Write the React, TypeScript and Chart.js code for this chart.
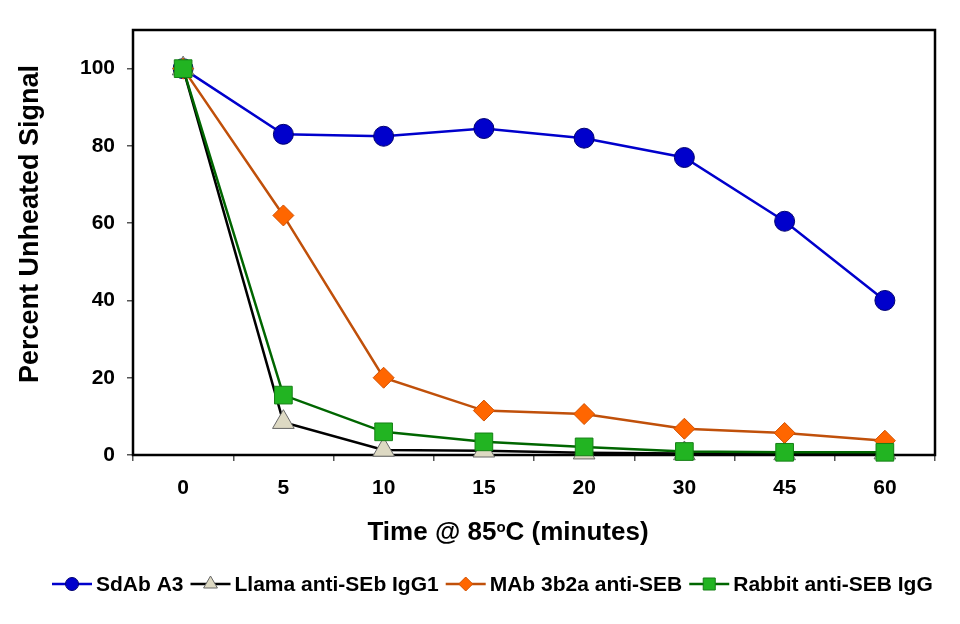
import React, { useEffect, useRef } from "react";
import { Chart, registerables } from "chart.js";
import { drawPoint } from "chart.js/helpers";

Chart.register(...registerables);

const FONT = '"Liberation Sans", Arial, Helvetica, sans-serif';

// ---- data ----
const timeCategories = ["0", "5", "10", "15", "20", "30", "45", "60"];
const sdAbA3 = [100, 83, 82.5, 84.5, 82, 77, 60.5, 40];
const llamaIgG1 = [100, 8.5, 1.3, 1.1, 0.6, 0.4, 0.4, 0.6];
const mab3b2a = [100, 62, 20, 11.5, 10.6, 6.8, 5.7, 3.7];
const rabbitIgG = [100, 15.5, 6, 3.4, 2.1, 0.9, 0.7, 0.7];
const seriesLabels = ["SdAb A3", "Llama anti-SEb IgG1", "MAb 3b2a anti-SEB", "Rabbit anti-SEB IgG"];
const yMin = 0;
const yMax = 110;
const yStep = 20;
const yTickLimit = 100;
const yTitle = "Percent Unheated Signal";
const xTitleParts = ["Time @ 85", "o", "C (minutes)"];

const framePlugin = {
  id: "frame",
  beforeDatasetsDraw(chart: any) {
    const { ctx, chartArea: a } = chart;
    ctx.save();
    ctx.strokeStyle = "#000";
    ctx.lineWidth = 2.5;
    ctx.strokeRect(a.left, a.top, a.right - a.left, a.bottom - a.top);
    ctx.restore();
  },
};

const titlesPlugin = {
  id: "titles",
  afterDraw(chart: any) {
    const ctx = chart.ctx;
    ctx.save();
    ctx.fillStyle = "#000";
    // y title
    ctx.font = `bold 27px ${FONT}`;
    ctx.translate(31, 224);
    ctx.rotate(-Math.PI / 2);
    ctx.textAlign = "center";
    ctx.textBaseline = "middle";
    ctx.fillText(yTitle, 0, 0);
    ctx.restore();

    // x title with superscript o
    ctx.save();
    ctx.fillStyle = "#000";
    ctx.textBaseline = "alphabetic";
    ctx.textAlign = "left";
    const big = `bold 26px ${FONT}`;
    const small = `bold 15px ${FONT}`;
    ctx.font = big;
    const w0 = ctx.measureText(xTitleParts[0]).width;
    const w2 = ctx.measureText(xTitleParts[2]).width;
    ctx.font = small;
    const w1 = ctx.measureText(xTitleParts[1]).width;
    const total = w0 + w1 + w2;
    let x = 508 - total / 2;
    const base = 540;
    ctx.font = big;
    ctx.fillText(xTitleParts[0], x, base);
    x += w0;
    ctx.font = small;
    ctx.fillText(xTitleParts[1], x, base - 8);
    x += w1;
    ctx.font = big;
    ctx.fillText(xTitleParts[2], x, base);
    ctx.restore();
  },
};

const legendPlugin = {
  id: "customLegend",
  afterDraw(chart: any) {
    const ctx = chart.ctx;
    ctx.save();
    ctx.font = `bold 21px ${FONT}`;
    ctx.textBaseline = "middle";
    ctx.textAlign = "left";
    const lineLen = 40;
    const gapText = 4;
    const gapItem = 7;
    const y = 584;
    let x = 52;
    chart.data.datasets.forEach((ds: any) => {
      ctx.strokeStyle = ds.borderColor;
      ctx.lineWidth = 2.5;
      ctx.beginPath();
      ctx.moveTo(x, y);
      ctx.lineTo(x + lineLen, y);
      ctx.stroke();
      ctx.fillStyle = ds.pointBackgroundColor;
      ctx.strokeStyle = ds.pointBorderColor;
      ctx.lineWidth = 1;
      drawPoint(ctx, { pointStyle: ds.pointStyle, radius: ds.legendRadius, borderWidth: 1, rotation: 0 } as any, x + lineLen / 2, y);
      ctx.fillStyle = "#000";
      const tx = x + lineLen + gapText;
      ctx.fillText(ds.label, tx, y + 1);
      x = tx + ctx.measureText(ds.label).width + gapItem;
    });
    ctx.restore();
  },
};

export default function App() {
  const canvasRef = useRef<HTMLCanvasElement | null>(null);

  useEffect(() => {
    document.body.style.margin = "0";
    const canvas = canvasRef.current;
    if (!canvas) return;
    const common = { borderWidth: 2.5, tension: 0, clip: false as any, pointBorderWidth: 1, fill: false };
    const chart = new Chart(canvas, {
      type: "line",
      data: {
        labels: timeCategories,
        datasets: [
          {
            ...common,
            label: seriesLabels[0],
            data: sdAbA3,
            borderColor: "#0000CC",
            backgroundColor: "#0000CC",
            pointBackgroundColor: "#0000CC",
            pointBorderColor: "#000070",
            pointStyle: "circle",
            pointRadius: 10,
            legendRadius: 6.5,
            order: 4,
          } as any,
          {
            ...common,
            label: seriesLabels[1],
            data: llamaIgG1,
            borderColor: "#000000",
            backgroundColor: "#DDD9C3",
            pointBackgroundColor: "#DDD9C3",
            pointBorderColor: "#666666",
            pointStyle: "triangle",
            pointRadius: 12.5,
            legendRadius: 8,
            order: 3,
          } as any,
          {
            ...common,
            label: seriesLabels[2],
            data: mab3b2a,
            borderColor: "#C0500A",
            backgroundColor: "#FF6600",
            pointBackgroundColor: "#FF6600",
            pointBorderColor: "#D05000",
            pointStyle: "rectRot",
            pointRadius: 10.5,
            legendRadius: 7,
            order: 2,
          } as any,
          {
            ...common,
            label: seriesLabels[3],
            data: rabbitIgG,
            borderColor: "#006600",
            backgroundColor: "#22B422",
            pointBackgroundColor: "#22B422",
            pointBorderColor: "#158015",
            pointStyle: "rect",
            pointRadius: 12.5,
            legendRadius: 8.5,
            order: 1,
          } as any,
        ],
      },
      options: {
        responsive: false,
        animation: false,
        layout: { padding: { top: 30, right: 25, left: 0, bottom: 0 } },
        plugins: {
          legend: { display: false },
          tooltip: { enabled: false },
          title: { display: false },
        },
        events: [],
        scales: {
          x: {
            type: "category",
            offset: true,
            grid: { display: true, drawOnChartArea: false, drawTicks: true, tickLength: 6, color: "#555", offset: true, lineWidth: 1.5 },
            border: { display: false },
            ticks: { color: "#000", font: { family: FONT, size: 21, weight: "bold" }, padding: 15, maxRotation: 0, autoSkip: false },
            afterFit: (scale: any) => {
              scale.height = 169;
            },
          },
          y: {
            type: "linear",
            min: yMin,
            max: yMax,
            grid: { display: true, drawOnChartArea: false, drawTicks: true, tickLength: 6, color: "#555", lineWidth: 1.5 },
            border: { display: false },
            ticks: { stepSize: yStep, color: "#000", font: { family: FONT, size: 21, weight: "bold" }, padding: 12 },
            afterBuildTicks: (scale: any) => {
              scale.ticks = scale.ticks.filter((t: any) => t.value <= yTickLimit);
            },
            afterFit: (scale: any) => {
              scale.width = 133;
            },
          },
        },
      } as any,
      plugins: [framePlugin, titlesPlugin, legendPlugin],
    });
    return () => chart.destroy();
  }, []);

  return (
    <div style={{ width: 960, height: 624, background: "#fff" }}>
      <canvas ref={canvasRef} width={960} height={624} style={{ display: "block" }} />
    </div>
  );
}
